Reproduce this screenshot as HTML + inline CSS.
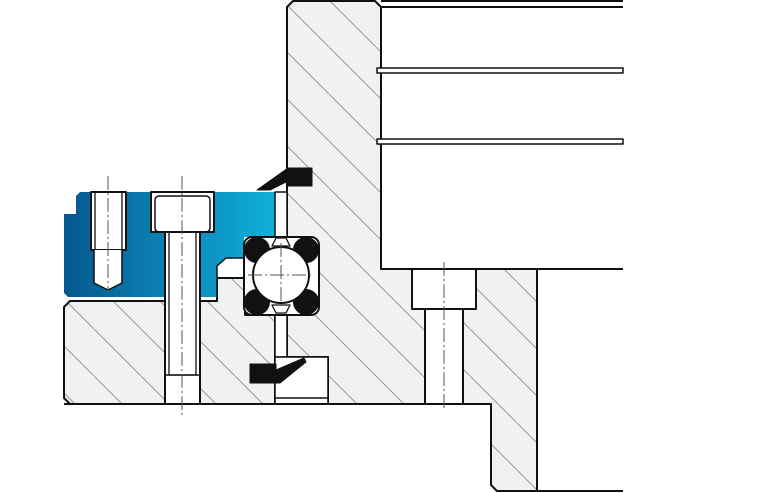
<!DOCTYPE html>
<html><head><style>html,body{margin:0;padding:0;background:#fff}svg{display:block}</style></head>
<body>
<svg width="768" height="493" viewBox="0 0 768 493" xmlns="http://www.w3.org/2000/svg">
<defs>
<pattern id="h" width="47" height="47" patternUnits="userSpaceOnUse">
<rect width="47" height="47" fill="#f1f1f1"/>
<line x1="-2" y1="-2" x2="49" y2="49" stroke="#8a8a8a" stroke-width="0.8"/>
</pattern>
<linearGradient id="b" x1="0" x2="1" y1="0" y2="0">
<stop offset="0" stop-color="#04578e"/><stop offset="1" stop-color="#12b0dc"/>
</linearGradient>
</defs>
<g stroke="#111" stroke-width="2" stroke-linejoin="round">
<!-- big outer housing -->
<path d="M287,7 L293,1 L375,1 L381,7 L381,269 L537,269 L537,491 L497,491 L491,485 L491,404 L328,404 L328,357 L287,357 Z" fill="url(#h)"/>
<!-- lower-left gray -->
<path d="M64,307 L70,301 L217,301 L217,278 L245,278 L245,315 L275,315 L275,404 L70,404 L64,398 Z" fill="url(#h)"/>
<!-- blue inner ring -->
<path d="M64,214 L76,214 L76,196 L80,192 L275,192 L275,237 L244,237 L244,258 L226,258 L217,266 L217,297 L68,297 L64,293 Z" fill="url(#b)" stroke="none"/>
<!-- channel -->
<path d="M217,297 L217,266 L226,258 L244,258 M217,278 L244,278" fill="none" stroke-width="1.5"/>
<!-- gap strip -->
<rect x="275" y="192" width="12" height="45" fill="#fff" stroke-width="1.5"/>
<rect x="275" y="315" width="12" height="42" fill="#fff" stroke-width="1.5"/>
<!-- bottom seal box -->
<rect x="275" y="357" width="53" height="47" fill="#fff" stroke-width="1.5"/>
<line x1="275" y1="398" x2="328" y2="398" stroke-width="1.5"/>
<!-- white box right -->
<line x1="381" y1="1" x2="623" y2="1"/>
<line x1="381" y1="7" x2="623" y2="7"/>
<rect x="377" y="68" width="246" height="5" fill="#fff" stroke-width="1.5"/>
<rect x="377" y="139" width="246" height="5" fill="#fff" stroke-width="1.5"/>
<line x1="381" y1="269" x2="623" y2="269"/>
<line x1="497" y1="491" x2="623" y2="491"/>
<!-- bore right -->
<rect x="412" y="269" width="64" height="40" fill="#fff"/>
<rect x="425" y="309" width="38" height="95" fill="#fff"/>
<!-- bolt -->
<rect x="151" y="192" width="63" height="40" fill="#fff"/>
<rect x="155" y="196" width="55" height="36" rx="4" fill="none" stroke-width="1.5"/>
<rect x="165" y="232" width="35" height="172" fill="#fff"/>
<rect x="169" y="232" width="27" height="143" fill="none" stroke-width="1.3"/>
<line x1="165" y1="375" x2="200" y2="375" stroke-width="1.5"/>
<!-- set screw -->
<rect x="91" y="192" width="35" height="58" fill="#fff"/>
<line x1="95" y1="192" x2="95" y2="250" stroke-width="1.3"/>
<line x1="122" y1="192" x2="122" y2="250" stroke-width="1.3"/>
<path d="M94,250 L94,283 L108,290 L122,283 L122,250" fill="#fff" stroke-width="1.5"/>
<!-- cage -->
<rect x="244" y="237" width="75" height="78" rx="8" fill="#fff"/>
<circle cx="257" cy="250" r="12" fill="#111"/>
<circle cx="306" cy="250" r="12" fill="#111"/>
<circle cx="257" cy="302" r="12" fill="#111"/>
<circle cx="306" cy="302" r="12" fill="#111"/>
<path d="M272,246 L276,238 L286,238 L290,246 Z" fill="#fff" stroke-width="1.3"/>
<path d="M272,305 L276,313 L286,313 L290,305 Z" fill="#fff" stroke-width="1.3"/>
<circle cx="281" cy="275" r="28" fill="#fff"/>
<!-- seals -->
<path d="M288,168 L312,168 L312,186 L288,186 L288,181 L270,190 L257,190 Z" fill="#111" stroke-width="1"/>
<path d="M250,364 L276,364 L276,370 L304,358 L306,362 L280,383 L250,383 Z" fill="#111" stroke-width="1"/>
<line x1="64" y1="404" x2="491" y2="404"/>
</g>
<!-- center lines -->
<g stroke="#555" stroke-width="1" stroke-dasharray="14,3,2,3" fill="none">
<line x1="108" y1="176" x2="108" y2="292"/>
<line x1="182" y1="176" x2="182" y2="418"/>
<line x1="444" y1="262" x2="444" y2="410"/>
<line x1="281" y1="243" x2="281" y2="307"/>
<line x1="248" y1="275" x2="314" y2="275"/>
</g>
</svg>
</body></html>
